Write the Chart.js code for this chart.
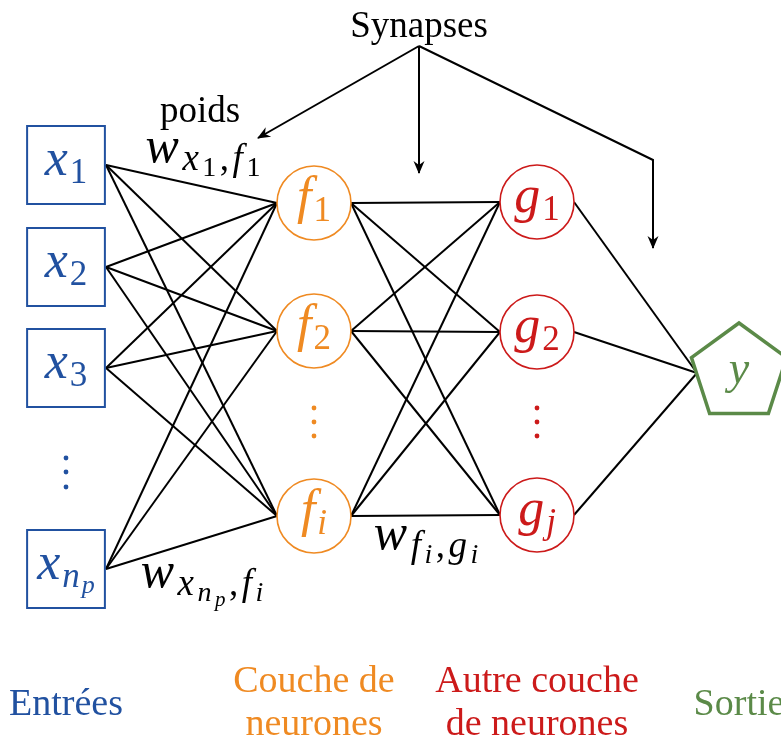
<!DOCTYPE html>
<html>
<head>
<meta charset="utf-8">
<script src="https://cdn.jsdelivr.net/npm/chart.js@4.4.1/dist/chart.umd.min.js"></script>
<style>
  html, body { margin: 0; padding: 0; background: #fff; }
  #wrap { width: 781px; height: 740px; }
</style>
</head>
<body>
<div id="wrap"><canvas id="net"></canvas></div>
<script>
// layers, left to right
const layerNames = [['Entrées'], ['Couche de', 'neurones'], ['Autre couche', 'de neurones'], ['Sortie']];
const layerX = [66, 314, 537, 739];

// node centres (y) for each layer
const inputY = [165, 267, 368, 569];
const hiddenY = [203, 331, 516];
const hidden2Y = [202, 332, 515];
const outputY = [373];

// the "⋮" between nodes
const inputDotsY = [458, 472, 487];
const hiddenDotsY = [408, 422, 436];

// node names: [text, subscript level]
const inputLabels = [[['x', 0], ['1', 1]], [['x', 0], ['2', 1]], [['x', 0], ['3', 1]], [['x', 0], ['n', 1], ['p', 2]]];
const hiddenLabels = [[['f', 0], ['1', 1]], [['f', 0], ['2', 1]], [['f', 0], ['i', 1]]];
const hidden2Labels = [[['g', 0], ['1', 1]], [['g', 0], ['2', 1]], [['g', 0], ['j', 1]]];
const outputLabels = [[['y', 0]]];

// weight annotations
const weightLabels = [
    [['w', 0], ['x', 1], ['1', 2], [',', 1], ['f', 1], ['1', 2]],
    [['w', 0], ['x', 1], ['n', 2], ['p', 3], [',', 1], ['f', 1], ['i', 2]],
    [['w', 0], ['f', 1], ['i', 2], [',', 1], ['g', 1], ['i', 2]],
];
const weightAt = [[203, 162], [202, 587], [426, 549]];

// "Synapses" arrows
const synapseOrigin = [419, 46];
const synapsePaths = [[[258, 138]], [[419, 173]], [[653, 160], [653, 248]]];

const BLUE = '#2151a0', ORANGE = '#ef8a22', RED = '#cc1a1a', GREEN = '#5b8a48';
const layerColors = [BLUE, ORANGE, RED, GREEN];
const halfWidth = [40, 37, 37, 42];
const FONT = '"Liberation Serif", "Times New Roman", serif';

const layersY = [inputY, hiddenY, hidden2Y, outputY];
const layersLabels = [inputLabels, hiddenLabels, hidden2Labels, outputLabels];

const datasets = [];

// fully connected edges between consecutive layers
for (let l = 0; l < layersY.length - 1; l++) {
    layersY[l].forEach(function (ya) {
        layersY[l + 1].forEach(function (yb) {
            datasets.push({
                data: [{x: layerX[l] + halfWidth[l], y: ya}, {x: layerX[l + 1] - halfWidth[l + 1], y: yb}],
                showLine: true, borderColor: '#000', borderWidth: 2, pointRadius: 0, order: 2,
            });
        });
    });
}

// synapse arrows
synapsePaths.forEach(function (path) {
    const pts = [{x: synapseOrigin[0], y: synapseOrigin[1]}].concat(path.map(p => ({x: p[0], y: p[1]})));
    datasets.push({data: pts, showLine: true, borderColor: '#000', borderWidth: 2, pointRadius: 0, order: 2});
});

// pentagon for the output
function pentagon(R, color) {
    const c = document.createElement('canvas');
    c.width = c.height = 2 * R + 10;
    const g = c.getContext('2d');
    g.beginPath();
    for (let k = 0; k < 5; k++) {
        const a = -Math.PI / 2 + k * 2 * Math.PI / 5;
        const px = c.width / 2 + R * Math.cos(a), py = c.height / 2 + R * Math.sin(a);
        k ? g.lineTo(px, py) : g.moveTo(px, py);
    }
    g.closePath();
    g.fillStyle = '#fff';
    g.fill();
    g.lineWidth = 3.5;
    g.lineJoin = 'miter';
    g.strokeStyle = color;
    g.stroke();
    return c;
}

const nodeStyles = [
    {pointStyle: 'rect', pointRadius: 55, pointBorderWidth: 2},
    {pointStyle: 'circle', pointRadius: 37, pointBorderWidth: 1.6},
    {pointStyle: 'circle', pointRadius: 37, pointBorderWidth: 1.6},
    {pointStyle: pentagon(50, GREEN), pointRadius: 50, pointBorderWidth: 0},
];
layersY.forEach(function (ys, l) {
    datasets.push(Object.assign({
        data: ys.map(y => ({x: layerX[l], y: y})),
        pointBorderColor: layerColors[l], pointBackgroundColor: '#fff', order: 0,
    }, nodeStyles[l]));
});

// vertical dots
datasets.push({data: inputDotsY.map(y => ({x: layerX[0], y: y})), pointRadius: 2.4, pointBorderWidth: 0, pointBackgroundColor: BLUE, order: 0});
datasets.push({data: hiddenDotsY.map(y => ({x: layerX[1], y: y})), pointRadius: 2.4, pointBorderWidth: 0, pointBackgroundColor: ORANGE, order: 0});
datasets.push({data: hiddenDotsY.map(y => ({x: layerX[2], y: y})), pointRadius: 2.4, pointBorderWidth: 0, pointBackgroundColor: RED, order: 0});

// math-ish text: main symbol + subscripts
const nodeSize = [52, 35, 26, 20];
const weightSize = [50, 37, 28, 21];
const mathDrop = [0, 8, 14, 19];
function drawMath(ctx, parts, cx, by, color, sizes, gap) {
    const fonts = parts.map(function (p) {
        const it = /[a-z]/.test(p[0]) ? 'italic ' : '';
        return it + sizes[p[1]] + 'px ' + FONT;
    });
    const widths = parts.map(function (p, i) {
        ctx.font = fonts[i];
        return ctx.measureText(p[0]).width + gap;
    });
    let x = cx - (widths.reduce((a, b) => a + b, 0) - gap) / 2;
    ctx.fillStyle = color;
    ctx.textAlign = 'left';
    ctx.textBaseline = 'alphabetic';
    parts.forEach(function (p, i) {
        ctx.font = fonts[i];
        ctx.fillText(p[0], x, by + mathDrop[p[1]]);
        x += widths[i];
    });
}

function arrowHead(ctx, fx, fy, tx, ty) {
    const a = Math.atan2(ty - fy, tx - fx);
    ctx.save();
    ctx.translate(tx, ty);
    ctx.rotate(a);
    ctx.beginPath();
    ctx.moveTo(1, 0);
    ctx.lineTo(-12, -5.5);
    ctx.lineTo(-8, 0);
    ctx.lineTo(-12, 5.5);
    ctx.closePath();
    ctx.fillStyle = '#000';
    ctx.fill();
    ctx.restore();
}

const textPlugin = {
    id: 'netText',
    afterDatasetsDraw(chart) {
        const ctx = chart.ctx;
        const sx = chart.scales.x, sy = chart.scales.y;
        const X = v => sx.getPixelForValue(v), Y = v => sy.getPixelForValue(v);
        ctx.save();

        // node names
        layersLabels.forEach(function (labels, l) {
            labels.forEach(function (parts, i) {
                const sizes = l === 3 ? [46] : nodeSize;
                drawMath(ctx, parts, X(layerX[l]), Y(layersY[l][i]) + 10, layerColors[l], sizes, 2);
            });
        });

        // weights
        weightLabels.forEach(function (parts, i) {
            drawMath(ctx, parts, X(weightAt[i][0]), Y(weightAt[i][1]), '#000', weightSize, 3.5);
        });

        // arrow heads
        synapsePaths.forEach(function (path) {
            const prev = path.length > 1 ? path[path.length - 2] : synapseOrigin;
            const tip = path[path.length - 1];
            arrowHead(ctx, X(prev[0]), Y(prev[1]), X(tip[0]), Y(tip[1]));
        });

        ctx.fillStyle = '#000';
        ctx.textAlign = 'center';
        ctx.font = '37px ' + FONT;
        ctx.fillText('Synapses', X(synapseOrigin[0]), Y(37));
        ctx.fillText('poids', X(200), Y(122));

        // layer titles
        ctx.font = '38px ' + FONT;
        layerNames.forEach(function (lines, l) {
            ctx.fillStyle = layerColors[l];
            const base = lines.length === 1 ? 715 : 692;
            lines.forEach(function (t, k) {
                ctx.fillText(t, X(layerX[l]), Y(base + 43 * k));
            });
        });
        ctx.restore();
    }
};

new Chart(document.getElementById('net'), {
    type: 'scatter',
    data: {datasets: datasets},
    options: {
        responsive: true,
        maintainAspectRatio: false,
        animation: false,
        events: [],
        layout: {padding: 0, autoPadding: false},
        plugins: {legend: {display: false}, tooltip: {enabled: false}},
        scales: {
            x: {type: 'linear', min: 0, max: 781, display: false},
            y: {type: 'linear', min: 0, max: 740, reverse: true, display: false},
        },
    },
    plugins: [textPlugin],
});
</script>
</body>
</html>
